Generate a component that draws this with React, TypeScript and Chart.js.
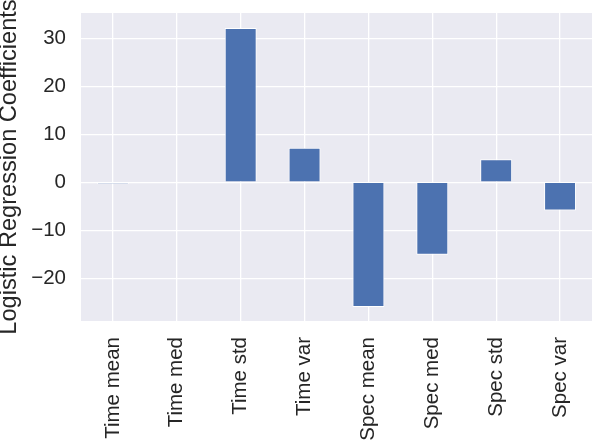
import React, { useEffect, useRef } from "react";
import { Chart, registerables } from "chart.js";

Chart.register(...registerables);

const categories = ["Time mean", "Time med", "Time std", "Time var", "Spec mean", "Spec med", "Spec std", "Spec var"];
const coefficients = [-0.3, 0.2, 32.1, 7.2, -26.0, -15.1, 4.8, -5.9];
const yMin = -28.9;
const yMax = 35.25;
const yStep = 10;
const yTitle = "Logistic Regression Coefficients";

const FONT = "'Liberation Sans', Arial, sans-serif";
const TEXT = "#262626";

const bgPlugin = {
  id: "plotBg",
  beforeDraw(chart: any) {
    const { ctx, chartArea } = chart;
    ctx.save();
    ctx.fillStyle = "#EAEAF2";
    ctx.fillRect(chartArea.left, chartArea.top, chartArea.right - chartArea.left, chartArea.bottom - chartArea.top);
    ctx.restore();
  },
};

export default function App() {
  const ref = useRef<HTMLCanvasElement | null>(null);
  useEffect(() => {
    if (!ref.current) return;
    const chart = new Chart(ref.current, {
      type: "bar",
      data: {
        labels: categories,
        datasets: [
          {
            data: coefficients,
            backgroundColor: "#4C72B0",
            borderColor: "#FFFFFF",
            borderWidth: 1,
            barPercentage: 0.5,
            categoryPercentage: 1.0,
          },
        ],
      },
      options: {
        animation: false,
        responsive: false,
        layout: { padding: { top: 13, right: 2, bottom: 0, left: 0 } },
        plugins: { legend: { display: false }, tooltip: { enabled: false } },
        scales: {
          x: {
            grid: { color: "#FFFFFF", lineWidth: 1.3, offset: false, drawTicks: false },
            border: { display: false },
            ticks: {
              autoSkip: false,
              minRotation: 90,
              maxRotation: 90,
              padding: 16,
              color: TEXT,
              font: { family: FONT, size: 20.5 },
            },
            afterFit(scale: any) {
              scale.height = 125;
              scale.paddingLeft = 0;
              scale.paddingRight = 0;
            },
          },
          y: {
            min: yMin,
            max: yMax,
            grid: { color: "#FFFFFF", lineWidth: 1.3, drawTicks: false },
            border: { display: false },
            ticks: {
              stepSize: yStep,
              includeBounds: false,
              padding: 15,
              color: TEXT,
              font: { family: FONT, size: 20.5 },
              callback: (v: any) => (v < 0 ? "\u2212" + Math.abs(v) : String(v)),
            },
            title: {
              display: true,
              text: yTitle,
              color: TEXT,
              font: { family: FONT, size: 23.6 },
              padding: { top: -5, bottom: 0 },
            },
            afterFit(scale: any) {
              scale.width = 81;
              scale.paddingTop = 0;
              scale.paddingBottom = 0;
            },
          },
        },
      },
      plugins: [bgPlugin],
    });
    return () => chart.destroy();
  }, []);
  return (
    <canvas
      ref={ref}
      width={594}
      height={446}
      style={{ position: "absolute", left: 0, top: 0, display: "block" }}
    />
  );
}
